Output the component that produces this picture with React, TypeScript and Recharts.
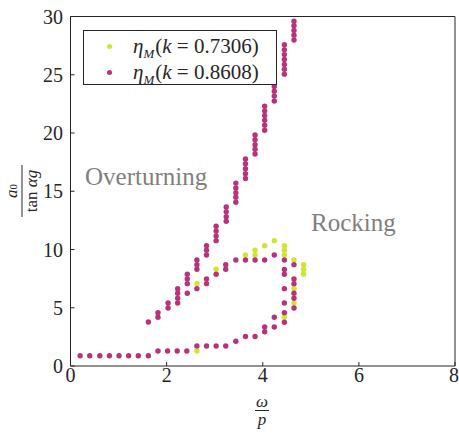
import { Scatter, ScatterChart, XAxis, YAxis } from "recharts";

// k = 0.8608 (magenta)
const lowBranch: [number, number][] = [
  [0.2, 0.88], [0.4, 0.88], [0.61, 0.88], [0.81, 0.88], [1.01, 0.88], [1.21, 0.88], [1.41, 0.88], [1.62, 0.88],
  [1.82, 1.29], [2.02, 1.29], [2.22, 1.29], [2.42, 1.29],
  [2.63, 1.72], [2.83, 1.72], [3.03, 1.72], [3.23, 1.72],
  [3.44, 2.12], [3.64, 2.53], [3.84, 2.53], [4.04, 2.94], [4.04, 3.35], [4.24, 3.35], [4.24, 4.18],
  [4.45, 3.76], [4.45, 4.58], [4.45, 5.41], [4.45, 6.64], [4.45, 7.87], [4.45, 8.28],
  [4.65, 4.98], [4.65, 5.81], [4.65, 6.24], [4.65, 7.07], [4.65, 7.47], [4.65, 8.7],
];

const loopTop: [number, number][] = [
  [1.62, 3.78], [1.82, 4.18], [1.82, 4.58], [2.03, 4.98], [2.03, 5.41],
  [2.23, 5.41], [2.23, 5.81], [2.23, 6.24], [2.23, 6.64],
  [2.43, 6.24], [2.43, 7.07], [2.43, 7.47], [2.43, 7.87],
  [2.63, 6.64], [2.83, 7.07], [2.83, 7.47], [3.03, 7.87], [3.23, 8.3], [3.23, 8.7],
  [3.44, 9.1], [3.64, 9.1], [3.84, 9.1], [4.04, 9.1], [4.24, 9.53], [4.45, 9.1],
];

const overturnEdge: [number, number][] = [
  [2.63, 8.3], [2.63, 8.7], [2.63, 9.1],
  [2.83, 9.53], [2.83, 9.93], [2.83, 10.33],
  [3.03, 10.76], [3.03, 11.16], [3.03, 11.59], [3.03, 11.99],
  [3.24, 12.42], [3.24, 12.81], [3.24, 13.24], [3.24, 13.65],
  [3.44, 14.05], [3.44, 14.48], [3.44, 14.88], [3.44, 15.28], [3.44, 15.7],
  [3.64, 16.1], [3.64, 16.51], [3.64, 16.94], [3.64, 17.37], [3.64, 17.77],
  [3.84, 18.2], [3.84, 18.6], [3.84, 19.0], [3.84, 19.43], [3.84, 19.83],
  [4.04, 20.23], [4.04, 20.66], [4.04, 21.1], [4.04, 21.5], [4.04, 21.9], [4.04, 22.3],
  [4.24, 22.75], [4.24, 23.18], [4.24, 23.58], [4.24, 24.0], [4.24, 24.4],
  [4.45, 25.05], [4.45, 25.47], [4.45, 25.89], [4.45, 26.31], [4.45, 26.73], [4.45, 27.15], [4.45, 27.57],
  [4.65, 27.98], [4.65, 28.4], [4.65, 28.8], [4.65, 29.2], [4.65, 29.6],
];

// k = 0.7306 (yellow), only where it shows
const k7306: [number, number][] = [
  [2.63, 1.29], [2.63, 7.07], [3.03, 8.3], [3.64, 9.53], [3.84, 9.53], [3.84, 9.93],
  [4.04, 10.33], [4.24, 10.76], [4.45, 9.53], [4.45, 9.93], [4.45, 10.33],
  [4.65, 9.1], [4.85, 7.87], [4.85, 8.28], [4.85, 8.7],
  [4.65, 6.64], [4.65, 5.41], [4.45, 4.18],
];

const legendKs = ["0.7306", "0.8608"];
const xTicks = [0, 2, 4, 6, 8];
const yTicks = [0, 5, 10, 15, 20, 25, 30];

const YELLOW = "#d2e52e";
const MAGENTA = "#b73279";
const AXIS = "#262626";
const SERIF = "'Liberation Serif', 'Times New Roman', serif";

const toPts = (arr: [number, number][]) => arr.map(([x, y]) => ({ x, y }));
const magenta = toPts([...lowBranch, ...loopTop, ...overturnEdge]);
const yellow = toPts(k7306);

const dot = (color: string) => (p: any) => <circle cx={p.cx} cy={p.cy} r={2.7} fill={color} />;

const tickFont = { fontFamily: SERIF, fontSize: 20 };
const it = { fontStyle: "italic" as const, fontFamily: SERIF };

export default function App() {
  return (
    <div style={{ position: "absolute", left: 0, top: 0, width: 459, height: 436, fontFamily: SERIF }}>
      <ScatterChart width={459} height={436} margin={{ top: 15.5, right: 3, bottom: 40, left: 0 }}>
        <XAxis type="number" dataKey="x" domain={[0, 8]} ticks={xTicks} height={30}
          stroke={AXIS} tickSize={-4} tickMargin={5.5} tick={tickFont} />
        <YAxis type="number" dataKey="y" domain={[0, 30]} ticks={yTicks} width={70.5}
          stroke={AXIS} tickSize={-4} tickMargin={11.4} tick={tickFont} />
        <XAxis xAxisId="top" orientation="top" type="number" dataKey="x" domain={[0, 8]} ticks={xTicks}
          height={1} stroke={AXIS} tickSize={-4} tick={false} />
        <YAxis yAxisId="right" orientation="right" type="number" dataKey="y" domain={[0, 30]} ticks={yTicks}
          width={1} stroke={AXIS} tickSize={-4} tick={false} />
        <Scatter data={yellow} fill={YELLOW} shape={dot(YELLOW)} isAnimationActive={false} />
        <Scatter data={magenta} fill={MAGENTA} shape={dot(MAGENTA)} isAnimationActive={false} />
      </ScatterChart>

      {/* legend */}
      <div style={{ position: "absolute", left: 83, top: 30, width: 194, height: 55, background: "#fff",
        border: `1px solid ${AXIS}`, boxSizing: "border-box", fontSize: 21, color: AXIS, fontFamily: SERIF }}>
        {legendKs.map((k, i) => (
          <div key={k} style={{ position: "absolute", left: 0, top: 3 + i * 26, height: 24, width: "100%" }}>
            <span style={{ position: "absolute", left: 23, top: 9.5, width: 5, height: 5, borderRadius: 3,
              background: i === 0 ? YELLOW : MAGENTA }} />
            <span style={{ position: "absolute", left: 49, top: 0, whiteSpace: "nowrap", lineHeight: "24px", fontFamily: SERIF }}>
              <span style={it}>η</span>
              <span style={{ ...it, fontSize: 13, position: "relative", top: 5, marginRight: 1 }}>M</span>
              (<span style={it}>k</span> = {k})
            </span>
          </div>
        ))}
      </div>

      {/* annotations */}
      <div style={{ position: "absolute", left: 85, top: 163, fontSize: 25, color: "#7f7f7f", whiteSpace: "nowrap", fontFamily: SERIF }}>Overturning</div>
      <div style={{ position: "absolute", left: 311, top: 209, fontSize: 25, color: "#7f7f7f", whiteSpace: "nowrap", fontFamily: SERIF }}>Rocking</div>

      {/* x label */}
      <div style={{ position: "absolute", left: 248, top: 395, width: 28, textAlign: "center", fontSize: 17, color: AXIS,
        lineHeight: "13px", fontFamily: SERIF }}>
        <div style={it}>ω</div>
        <div style={{ borderTop: `1px solid ${AXIS}`, margin: "2px 7px 2px" }} />
        <div style={it}>p</div>
      </div>

      {/* y label */}
      <div style={{ position: "absolute", left: 21, top: 191, width: 60, transform: "translate(-50%, -50%) rotate(-90deg)",
        textAlign: "center", fontSize: 17, color: AXIS, lineHeight: "13px", fontFamily: SERIF }}>
        <div><span style={it}>a</span><span style={{ fontSize: 11 }}>0</span></div>
        <div style={{ borderTop: `1px solid ${AXIS}`, margin: "2px 4px 2px" }} />
        <div>tan <span style={it}>αg</span></div>
      </div>
    </div>
  );
}
